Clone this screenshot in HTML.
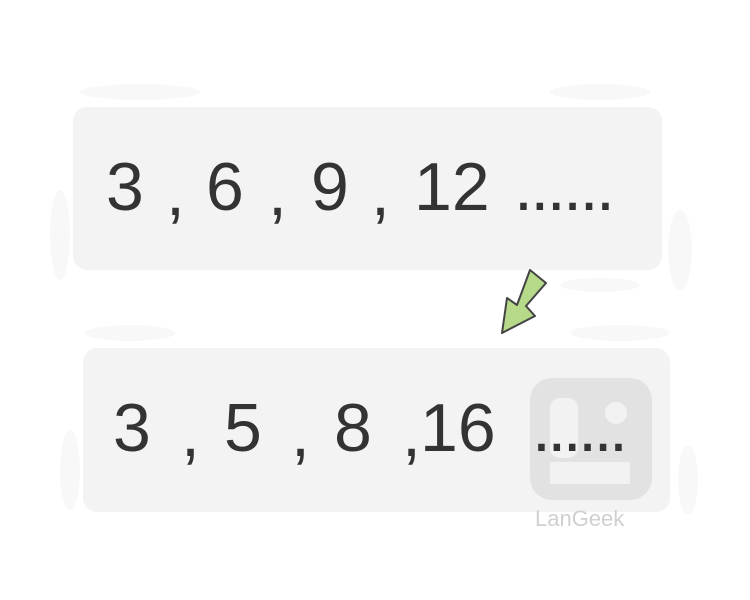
<!DOCTYPE html>
<html><head><meta charset="utf-8"><style>
html,body{margin:0;padding:0;background:#fff;width:750px;height:600px;overflow:hidden}
svg text{font-family:"Liberation Sans",sans-serif}
</style></head><body>
<svg width="750" height="600" viewBox="0 0 750 600">
  <g fill="#f8f8f8">
    <ellipse cx="140" cy="92" rx="60" ry="8"/>
    <ellipse cx="600" cy="92" rx="50" ry="8"/>
    <ellipse cx="60" cy="235" rx="10" ry="45"/>
    <ellipse cx="680" cy="250" rx="12" ry="40"/>
    <ellipse cx="130" cy="333" rx="45" ry="8"/>
    <ellipse cx="620" cy="333" rx="50" ry="8"/>
    <ellipse cx="70" cy="470" rx="10" ry="40"/>
    <ellipse cx="688" cy="480" rx="10" ry="35"/>
    <ellipse cx="600" cy="285" rx="40" ry="7"/>
  </g>
  <rect x="73" y="107" width="589" height="163" rx="14" fill="#f3f3f3"/>
  <rect x="83" y="348" width="587" height="164" rx="14" fill="#f3f3f3"/>
  <g fill="#333" font-size="68">
    <text x="106" y="210">3</text>
    <text x="166" y="215">,</text>
    <text x="206" y="210">6</text>
    <text x="268" y="215">,</text>
    <text x="311" y="210">9</text>
    <text x="371" y="215">,</text>
    <text x="414" y="210">12</text>
    <text x="514" y="210" letter-spacing="-2.5">......</text>
  </g>
  <g fill="#333" font-size="68">
    <text x="113" y="451">3</text>
    <text x="181" y="456">,</text>
    <text x="224" y="451">5</text>
    <text x="291" y="456">,</text>
    <text x="334" y="451">8</text>
    <text x="402" y="456">,</text>
    <text x="420" y="451">16</text>
  </g>
  <g>
    <rect x="530" y="378" width="122" height="122" rx="22" fill="#e2e2e2"/>
    <rect x="550" y="398" width="28" height="60" rx="10" fill="#f2f2f2"/>
    <circle cx="616" cy="413" r="11" fill="#f2f2f2"/>
    <path d="M550 462 h80 v22 h-80 z" fill="#f2f2f2"/>
    <text x="535" y="526" font-size="22" fill="#d0d0d0">LanGeek</text>
  </g>
  <text x="532" y="451" font-size="68" fill="#333" letter-spacing="-3.5">......</text>
  <polygon points="530,270 546,283 526,306 535,316 502,333 507,298 517,305" fill="#b6d98a" stroke="#444" stroke-width="2" stroke-linejoin="round"/>
</svg>
</body></html>
